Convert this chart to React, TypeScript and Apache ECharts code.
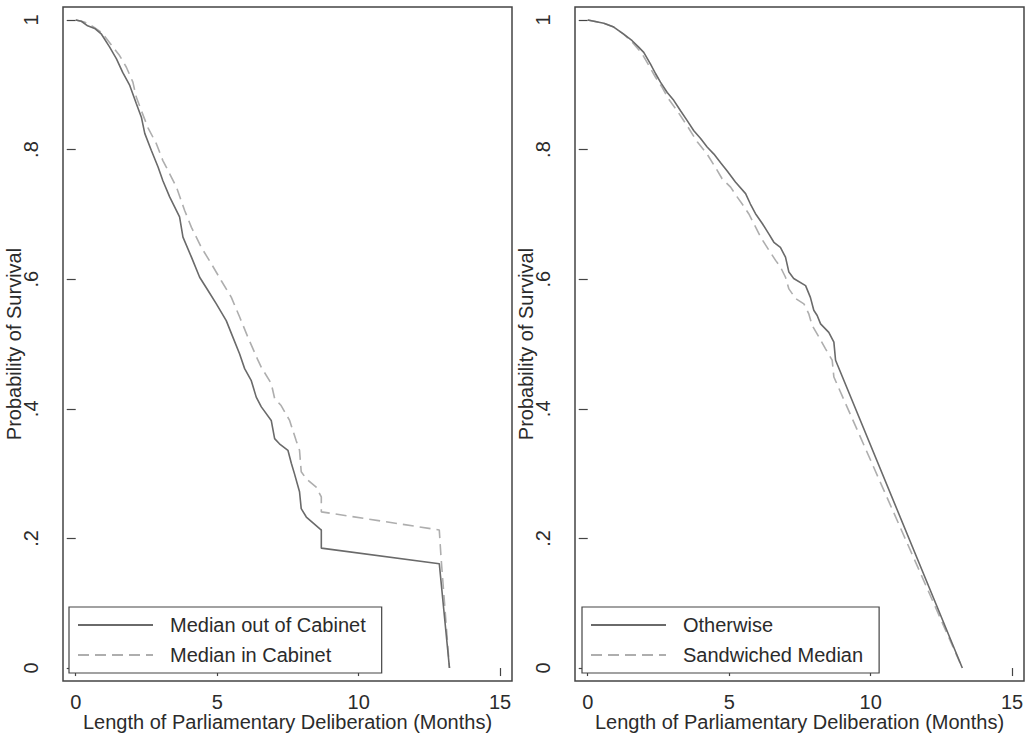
import React, { useEffect, useRef } from 'react';
import * as echarts from 'echarts';

const xTickValues = [0, 5, 10, 15];
const yTickValues = [0, 0.2, 0.4, 0.6, 0.8, 1];
const yTickLabels = ['0', '.2', '.4', '.6', '.8', '1'];
const xAxisTitle = 'Length of Parliamentary Deliberation (Months)';
const yAxisTitle = 'Probability of Survival';
const leftNames = ['Median out of Cabinet', 'Median in Cabinet'];
const rightNames = ['Otherwise', 'Sandwiched Median'];

// Left panel: Median out of Cabinet (solid)
const medianOutOfCabinet = [
  [0, 1], [0.2, 0.998], [0.42, 0.991], [0.67, 0.987], [0.91, 0.978], [1.2, 0.958], [1.44, 0.94],
  [1.66, 0.919], [1.91, 0.899], [2.14, 0.871], [2.32, 0.85], [2.44, 0.825], [2.67, 0.799],
  [2.91, 0.773], [3.08, 0.752], [3.32, 0.727], [3.67, 0.696], [3.79, 0.665], [4.09, 0.634],
  [4.38, 0.603], [4.67, 0.583], [4.97, 0.562], [5.32, 0.536], [5.55, 0.511], [5.79, 0.485],
  [5.97, 0.462], [6.2, 0.444], [6.38, 0.418], [6.56, 0.403], [6.91, 0.382], [7.03, 0.354],
  [7.2, 0.346], [7.5, 0.336], [7.62, 0.316], [7.73, 0.3], [7.91, 0.272], [7.97, 0.246],
  [8.15, 0.233], [8.62, 0.215], [8.68, 0.213], [8.68, 0.185], [12.85, 0.161], [13.21, 0],
];

// Left panel: Median in Cabinet (dashed)
const medianInCabinet = [
  [0, 1], [0.3, 0.997], [0.6, 0.99], [0.91, 0.981], [1.32, 0.958], [1.55, 0.945], [1.79, 0.927],
  [2.02, 0.904], [2.14, 0.881], [2.32, 0.86], [2.55, 0.834], [2.85, 0.809], [3.08, 0.783],
  [3.2, 0.773], [3.56, 0.742], [3.85, 0.706], [4.09, 0.68], [4.44, 0.649], [4.79, 0.624],
  [5.14, 0.598], [5.5, 0.572], [5.79, 0.542], [6.08, 0.511], [6.44, 0.475], [6.56, 0.464],
  [6.91, 0.439], [7.03, 0.416], [7.26, 0.405], [7.56, 0.382], [7.79, 0.351], [7.91, 0.336],
  [7.97, 0.303], [8.15, 0.292], [8.5, 0.279], [8.68, 0.264], [8.68, 0.241], [12.85, 0.213],
  [12.91, 0.172], [13.21, 0],
];

// Right panel: Otherwise (solid)
const otherwise = [
  [0, 1], [0.57, 0.995], [0.92, 0.989], [1.27, 0.978], [1.57, 0.968], [1.8, 0.958], [1.98, 0.95],
  [2.22, 0.932], [2.4, 0.917], [2.57, 0.904], [2.81, 0.888], [3.04, 0.876], [3.28, 0.86],
  [3.51, 0.845], [3.75, 0.829], [3.99, 0.817], [4.22, 0.804], [4.46, 0.793], [4.69, 0.78],
  [4.93, 0.767], [5.22, 0.75], [5.58, 0.732], [5.75, 0.716], [5.93, 0.701], [6.17, 0.686],
  [6.4, 0.67], [6.58, 0.657], [6.81, 0.649], [6.99, 0.634], [7.11, 0.611], [7.28, 0.601],
  [7.7, 0.59], [7.87, 0.572], [7.99, 0.552], [8.11, 0.544], [8.23, 0.531], [8.52, 0.518],
  [8.7, 0.503], [8.76, 0.475], [13.24, 0],
];

// Right panel: Sandwiched Median (dashed)
const sandwichedMedian = [
  [0, 1], [0.57, 0.995], [0.92, 0.989], [1.27, 0.978], [1.57, 0.966], [1.92, 0.948], [2.16, 0.93],
  [2.39, 0.912], [2.63, 0.896], [2.86, 0.878], [3.16, 0.86], [3.51, 0.837], [3.87, 0.812],
  [4.22, 0.793], [4.52, 0.772], [4.75, 0.755], [5.05, 0.742], [5.28, 0.727], [5.46, 0.716],
  [5.69, 0.701], [5.87, 0.686], [6.11, 0.665], [6.4, 0.645], [6.64, 0.629], [6.81, 0.619],
  [6.99, 0.603], [7.11, 0.585], [7.35, 0.57], [7.64, 0.562], [7.81, 0.547], [7.93, 0.529],
  [8.17, 0.511], [8.4, 0.493], [8.64, 0.475], [8.7, 0.449], [13.24, 0],
];

const FONT = '"Liberation Sans", Arial, Helvetica, sans-serif';
const FS = 20;
const TEXT = '#2b2b2b';
const FRAME = '#444444';
const SOLID = '#6a6a6a';
const DASHED = '#aeaeae';

function xAxisDef(gridIndex: number) {
  return {
    type: 'value',
    gridIndex,
    min: -0.45,
    max: 15.42,
    name: xAxisTitle,
    nameLocation: 'middle',
    nameGap: 31,
    nameMoveOverlap: false,
    nameTextStyle: { fontFamily: FONT, fontSize: FS, color: TEXT },
    axisLine: { show: false },
    splitLine: { show: false },
    axisTick: { show: true, length: 8, customValues: xTickValues, lineStyle: { color: FRAME, width: 1.2 } },
    axisLabel: { customValues: xTickValues, margin: 11, fontFamily: FONT, fontSize: FS, color: TEXT },
  };
}

function yAxisDef(gridIndex: number) {
  return {
    type: 'value',
    gridIndex,
    min: -0.02,
    max: 1.02,
    name: yAxisTitle,
    nameLocation: 'middle',
    nameRotate: 90,
    nameGap: 39,
    nameMoveOverlap: false,
    nameTextStyle: { fontFamily: FONT, fontSize: FS, color: TEXT },
    axisLine: { show: false },
    splitLine: { show: false },
    axisTick: { show: true, length: 9, customValues: yTickValues, lineStyle: { color: FRAME, width: 1.2 } },
    axisLabel: {
      customValues: yTickValues,
      rotate: 90,
      margin: 22,
      fontFamily: FONT,
      fontSize: FS,
      color: TEXT,
      formatter: (v: number) => {
        const i = yTickValues.findIndex((t) => Math.abs(t - v) < 1e-6);
        return i >= 0 ? yTickLabels[i] : '';
      },
    },
  };
}

function lineSeries(name: string, data: number[][], idx: number, dashed: boolean) {
  return {
    name,
    type: 'line',
    xAxisIndex: idx,
    yAxisIndex: idx,
    data,
    symbol: 'none',
    showSymbol: false,
    smooth: false,
    lineStyle: {
      color: dashed ? DASHED : SOLID,
      width: 1.6,
      type: dashed ? [11, 6] : 'solid',
    },
    itemStyle: { color: dashed ? DASHED : SOLID },
    emphasis: { disabled: true },
    z: dashed ? 2 : 3,
  };
}

function legendDef(names: string[], left: number) {
  return {
    show: true,
    data: names,
    orient: 'vertical',
    left,
    top: 607,
    padding: [8, 16, 8, 8],
    itemWidth: 75,
    itemHeight: 14,
    itemGap: 10,
    borderColor: FRAME,
    borderWidth: 1.2,
    backgroundColor: '#ffffff',
    selectedMode: false,
    itemStyle: { opacity: 0, borderWidth: 0 },
    textStyle: {
      fontFamily: FONT,
      fontSize: FS,
      color: TEXT,
      lineHeight: 20,
      padding: [0, 0, 0, 12],
    },
  };
}

function gridDef(left: number) {
  return {
    left,
    top: 7,
    width: 449,
    height: 674,
    show: true,
    borderColor: FRAME,
    borderWidth: 1.5,
    backgroundColor: 'transparent',
    containLabel: false,
    outerBoundsMode: 'none',
  };
}

export default function App() {
  const ref = useRef<HTMLDivElement>(null);

  useEffect(() => {
    if (!ref.current) return;
    const chart = echarts.init(ref.current, undefined, { renderer: 'svg' });
    chart.setOption({
      animation: false,
      backgroundColor: '#ffffff',
      grid: [gridDef(63), gridDef(575)],
      xAxis: [xAxisDef(0), xAxisDef(1)],
      yAxis: [yAxisDef(0), yAxisDef(1)],
      legend: [legendDef(leftNames, 69), legendDef(rightNames, 582)],
      series: [
        lineSeries(leftNames[0], medianOutOfCabinet, 0, false),
        lineSeries(leftNames[1], medianInCabinet, 0, true),
        lineSeries(rightNames[0], otherwise, 1, false),
        lineSeries(rightNames[1], sandwichedMedian, 1, true),
      ],
    });
    return () => chart.dispose();
  }, []);

  return (
    <div
      ref={ref}
      style={{ position: 'absolute', left: 0, top: 0, width: 1033, height: 737 }}
    />
  );
}
